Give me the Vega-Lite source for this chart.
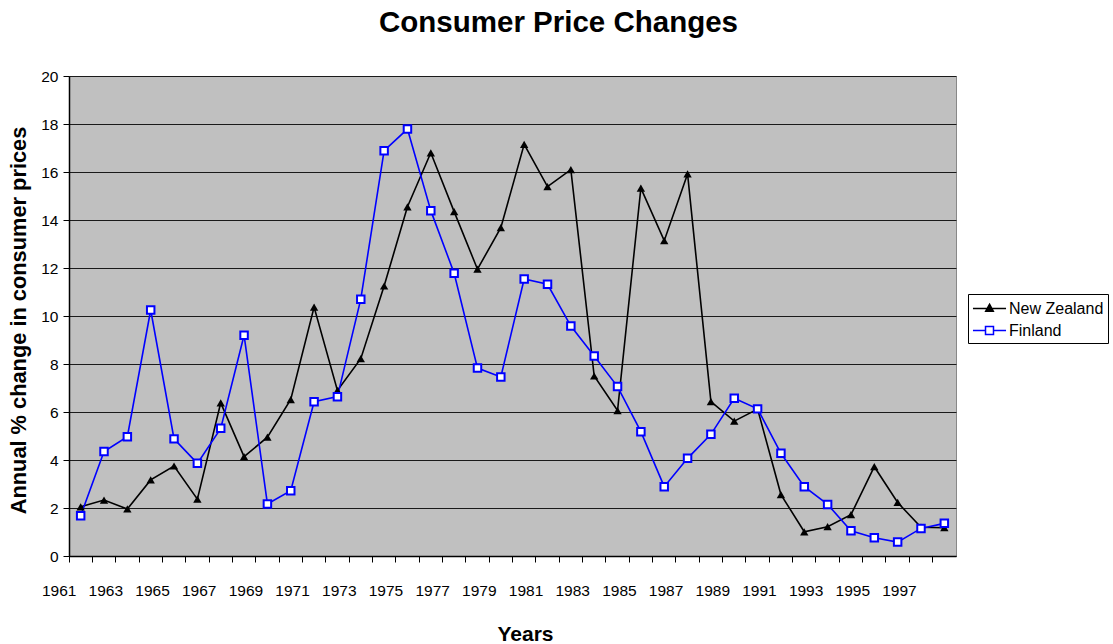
{
  "$schema": "https://vega.github.io/schema/vega-lite/v6.json",
  "autosize": "none",
  "width": 887,
  "height": 480,
  "padding": {"left": 69, "top": 76, "right": 157, "bottom": 88},
  "background": "white",
  "config": {
    "font": "Liberation Sans",
    "view": {"fill": "#C0C0C0", "stroke": "#888888", "strokeWidth": 1}
  },
  "title": {
    "text": "Consumer Price Changes",
    "fontSize": 29.5,
    "fontWeight": "bold",
    "font": "Liberation Sans",
    "color": "#000000",
    "anchor": "middle",
    "dx": 46,
    "offset": 31
  },
  "data": {
    "values": [
      {"year": 1961, "series": "New Zealand", "value": 2.05},
      {"year": 1962, "series": "New Zealand", "value": 2.33},
      {"year": 1963, "series": "New Zealand", "value": 1.96},
      {"year": 1964, "series": "New Zealand", "value": 3.17},
      {"year": 1965, "series": "New Zealand", "value": 3.75},
      {"year": 1966, "series": "New Zealand", "value": 2.37},
      {"year": 1967, "series": "New Zealand", "value": 6.38},
      {"year": 1968, "series": "New Zealand", "value": 4.14},
      {"year": 1969, "series": "New Zealand", "value": 4.95},
      {"year": 1970, "series": "New Zealand", "value": 6.52},
      {"year": 1971, "series": "New Zealand", "value": 10.37},
      {"year": 1972, "series": "New Zealand", "value": 6.9},
      {"year": 1973, "series": "New Zealand", "value": 8.22},
      {"year": 1974, "series": "New Zealand", "value": 11.25},
      {"year": 1975, "series": "New Zealand", "value": 14.55},
      {"year": 1976, "series": "New Zealand", "value": 16.8},
      {"year": 1977, "series": "New Zealand", "value": 14.35},
      {"year": 1978, "series": "New Zealand", "value": 11.95},
      {"year": 1979, "series": "New Zealand", "value": 13.68},
      {"year": 1980, "series": "New Zealand", "value": 17.15},
      {"year": 1981, "series": "New Zealand", "value": 15.39},
      {"year": 1982, "series": "New Zealand", "value": 16.1},
      {"year": 1983, "series": "New Zealand", "value": 7.5},
      {"year": 1984, "series": "New Zealand", "value": 6.06},
      {"year": 1985, "series": "New Zealand", "value": 15.33},
      {"year": 1986, "series": "New Zealand", "value": 13.14},
      {"year": 1987, "series": "New Zealand", "value": 15.92},
      {"year": 1988, "series": "New Zealand", "value": 6.43},
      {"year": 1989, "series": "New Zealand", "value": 5.62},
      {"year": 1990, "series": "New Zealand", "value": 6.12},
      {"year": 1991, "series": "New Zealand", "value": 2.56},
      {"year": 1992, "series": "New Zealand", "value": 1.01},
      {"year": 1993, "series": "New Zealand", "value": 1.22},
      {"year": 1994, "series": "New Zealand", "value": 1.72},
      {"year": 1995, "series": "New Zealand", "value": 3.72},
      {"year": 1996, "series": "New Zealand", "value": 2.23},
      {"year": 1997, "series": "New Zealand", "value": 1.2},
      {"year": 1998, "series": "New Zealand", "value": 1.18},
      {"year": 1961, "series": "Finland", "value": 1.68},
      {"year": 1962, "series": "Finland", "value": 4.35},
      {"year": 1963, "series": "Finland", "value": 4.97},
      {"year": 1964, "series": "Finland", "value": 10.25},
      {"year": 1965, "series": "Finland", "value": 4.88},
      {"year": 1966, "series": "Finland", "value": 3.86},
      {"year": 1967, "series": "Finland", "value": 5.32},
      {"year": 1968, "series": "Finland", "value": 9.2},
      {"year": 1969, "series": "Finland", "value": 2.17},
      {"year": 1970, "series": "Finland", "value": 2.72},
      {"year": 1971, "series": "Finland", "value": 6.43},
      {"year": 1972, "series": "Finland", "value": 6.64},
      {"year": 1973, "series": "Finland", "value": 10.7},
      {"year": 1974, "series": "Finland", "value": 16.89},
      {"year": 1975, "series": "Finland", "value": 17.79},
      {"year": 1976, "series": "Finland", "value": 14.39},
      {"year": 1977, "series": "Finland", "value": 11.78},
      {"year": 1978, "series": "Finland", "value": 7.83},
      {"year": 1979, "series": "Finland", "value": 7.46},
      {"year": 1980, "series": "Finland", "value": 11.54},
      {"year": 1981, "series": "Finland", "value": 11.32},
      {"year": 1982, "series": "Finland", "value": 9.58},
      {"year": 1983, "series": "Finland", "value": 8.33},
      {"year": 1984, "series": "Finland", "value": 7.06},
      {"year": 1985, "series": "Finland", "value": 5.18},
      {"year": 1986, "series": "Finland", "value": 2.89},
      {"year": 1987, "series": "Finland", "value": 4.07},
      {"year": 1988, "series": "Finland", "value": 5.07},
      {"year": 1989, "series": "Finland", "value": 6.57},
      {"year": 1990, "series": "Finland", "value": 6.13},
      {"year": 1991, "series": "Finland", "value": 4.28},
      {"year": 1992, "series": "Finland", "value": 2.89},
      {"year": 1993, "series": "Finland", "value": 2.15},
      {"year": 1994, "series": "Finland", "value": 1.05},
      {"year": 1995, "series": "Finland", "value": 0.76},
      {"year": 1996, "series": "Finland", "value": 0.58},
      {"year": 1997, "series": "Finland", "value": 1.15},
      {"year": 1998, "series": "Finland", "value": 1.36}
    ]
  },
  "encoding": {
    "x": {
      "field": "year",
      "type": "ordinal",
      "scale": {"type": "band", "paddingInner": 0, "paddingOuter": 0},
      "axis": {
        "title": "Years",
        "titleFontSize": 21,
        "titleFontWeight": "bold",
        "titleColor": "#000000",
        "titleX": 456,
        "titleY": 84,
        "titleAlign": "center",
        "titleBaseline": "alphabetic",
        "bandPosition": 0,
        "labelAngle": 0,
        "labelFontSize": 15.5,
        "labelColor": "#000000",
        "labelPadding": 21,
        "labelOffset": -21.5,
        "labelExpr": "datum.value % 2 == 1 ? datum.label : ''",
        "labelOverlap": false,
        "tickColor": "#000000",
        "tickSize": 6,
        "domainColor": "#000000",
        "domainWidth": 1.5,
        "grid": false
      }
    },
    "y": {
      "field": "value",
      "type": "quantitative",
      "scale": {"domain": [0, 20], "nice": false},
      "axis": {
        "title": "Annual % change in consumer prices",
        "titleFontSize": 21.8,
        "titleFontWeight": "bold",
        "titleColor": "#000000",
        "titleX": -51,
        "titleY": 244,
        "titleAlign": "center",
        "titleBaseline": "middle",
        "values": [0, 2, 4, 6, 8, 10, 12, 14, 16, 18, 20],
        "labelFontSize": 15.5,
        "labelColor": "#000000",
        "labelPadding": 5,
        "tickColor": "#000000",
        "tickSize": 6,
        "domainColor": "#000000",
        "domainWidth": 1.5,
        "grid": true,
        "gridColor": "#1a1a1a",
        "gridWidth": 1
      }
    }
  },
  "layer": [
    {
      "mark": {"type": "line", "strokeWidth": 1.6},
      "encoding": {
        "color": {
          "field": "series",
          "type": "nominal",
          "scale": {"domain": ["New Zealand", "Finland"], "range": ["#000000", "#0000FF"]},
          "legend": {
            "title": null,
            "orient": "none",
            "legendX": 899,
            "legendY": 218,
            "padding": 4,
            "strokeColor": "#000000",
            "fillColor": "#FFFFFF",
            "labelFontSize": 16,
            "labelColor": "#000000",
            "symbolSize": 361,
            "symbolStrokeWidth": 1.5,
            "symbolOffset": 7,
            "labelOffset": 9,
            "rowPadding": 3,
            "encode": {
              "symbols": {
                "update": {
                  "shape": {"signal": "datum.value === 'New Zealand' ? 'M-1.74,0H1.74M0,-0.45L0.4,0.3L-0.4,0.3Z' : 'M-1.74,0H-0.42M0.42,0H1.74M-0.42,-0.42H0.42V0.42H-0.42Z'"},
                  "fill": {"signal": "datum.value === 'New Zealand' ? '#000000' : '#FFFFFF'"},
                  "fillOpacity": {"value": 1},
                  "strokeWidth": {"value": 1.5}
                }
              }
            }
          }
        }
      }
    },
    {
      "transform": [{"filter": "datum.series === 'New Zealand'"}],
      "mark": {"type": "point", "shape": "triangle-up", "filled": true, "color": "#000000", "size": 70, "opacity": 1}
    },
    {
      "transform": [{"filter": "datum.series === 'Finland'"}],
      "mark": {"type": "point", "shape": "square", "filled": true, "fill": "#FFFFFF", "stroke": "#0000FF", "strokeWidth": 2, "size": 56, "opacity": 1}
    }
  ]
}
